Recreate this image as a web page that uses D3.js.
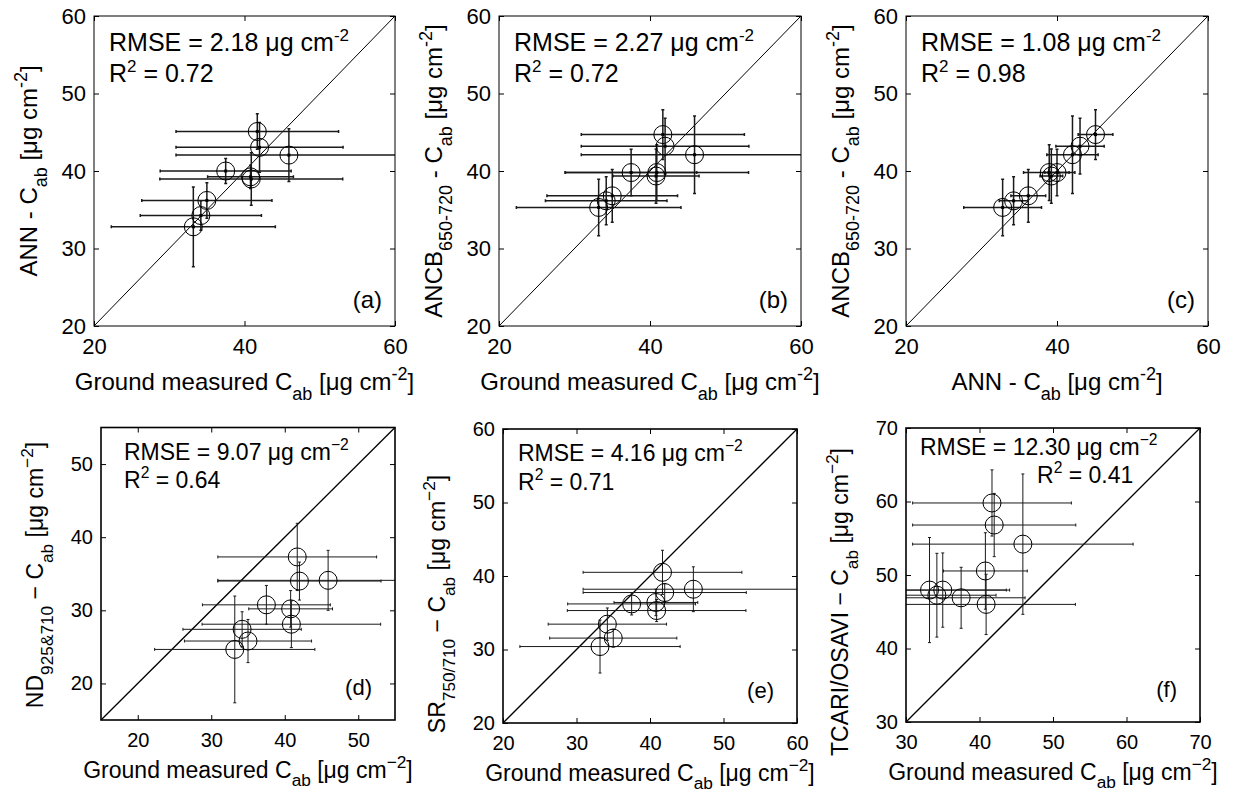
<!DOCTYPE html>
<html>
<head>
<meta charset="utf-8">
<script src="https://cdn.jsdelivr.net/npm/d3@7"></script>
<style>
  body { margin: 0; background: #fff; }
  svg { font-family: "Liberation Sans", Arial, Helvetica, sans-serif; }
  text { white-space: pre; }
</style>
</head>
<body>
<svg id="fig" width="1233" height="794"></svg>
<script>
// ground measured Cab (x of a, b, d, e, f) and its std
const groundCab = [33.2, 34.2, 35.0, 37.5, 40.8, 40.9, 41.7, 42.0, 45.9];
const groundSd  = [10.9, 8.05, 8.65, 8.7, 5.7, 12.15, 10.8, 11.1, 15.0];
// estimates per method, same sample order
const annCab   = [32.8, 34.25, 36.2, 40.0, 39.25, 38.97, 45.1, 43.05, 42.05];
const annSd    = [5.15, 1.9, 2.3, 1.6, 1.5, 3.4, 2.3, 3.2, 3.4];
const ancbCab  = [35.3, 36.15, 36.8, 39.8, 39.35, 39.8, 44.7, 43.2, 42.1];
const ancbSd   = [3.65, 3.1, 3.4, 3.0, 3.5, 3.6, 3.2, 3.6, 5.0];
const ndCab    = [24.65, 27.4, 25.8, 30.75, 30.2, 28.1, 37.3, 34.0, 34.1];
const ndSd     = [7.3, 2.4, 2.95, 2.65, 2.5, 3.2, 4.6, 2.6, 4.1];
const srCab    = [30.4, 33.45, 31.55, 36.2, 36.4, 35.3, 40.5, 37.75, 38.2];
const srSd     = [3.6, 2.2, 1.2, 1.5, 1.8, 1.5, 3.0, 1.2, 3.05];
const tcariCab = [47.95, 47.25, 47.95, 46.9, 50.55, 46.0, 59.8, 56.8, 54.2];
const tcariSd  = [7.15, 5.7, 5.05, 4.15, 5.2, 4.1, 4.5, 4.3, 9.55];

const rmseText = ["2.18", "2.27", "1.08", "9.07", "4.16", "12.30"];
const r2Text   = ["0.72", "0.72", "0.98", "0.64", "0.71", "0.41"];
const panelTags = ["(a)", "(b)", "(c)", "(d)", "(e)", "(f)"];

const svg = d3.select("#fig");

// text with sub/superscripts: segs = [{t, sub, sup}]
function richText(sel, segs, size, scale, shift) {
    let cur = 0;
    const sh = shift || 0.42;
    segs.forEach(function (s) {
        const target = s.sub ? size * sh : s.sup ? -size * 0.42 : 0;
        sel.append("tspan")
            .attr("dy", target - cur)
            .attr("font-size", (s.sub || s.sup) ? size * scale : size)
            .text(s.t);
        cur = target;
    });
}

function unitSegs(pre, minus) {
    return [{t: pre}, {t: "ab", sub: true}, {t: " [\u03bcg cm"}, {t: minus + "2", sup: true}, {t: "]"}];
}
const groundTitleTop = unitSegs("Ground measured C", "-");
const groundTitleBot = unitSegs("Ground measured C", "\u2212");

const panels = [
    {left: 94, right: 395, top: 16, bottom: 326, xd: [20, 60], yd: [20, 60],
     xt: [20, 40, 60], yt: [20, 30, 40, 50, 60],
     xs: groundCab, xe: groundSd, ys: annCab, ye: annSd,
     xTitle: groundTitleTop, yTitle: unitSegs("ANN - C", "-"), row: 0},
    {left: 499, right: 801, top: 16, bottom: 326, xd: [20, 60], yd: [20, 60],
     xt: [20, 40, 60], yt: [20, 30, 40, 50, 60],
     xs: groundCab, xe: groundSd, ys: ancbCab, ye: ancbSd,
     xTitle: groundTitleTop,
     yTitle: [{t: "ANCB"}, {t: "650-720", sub: true}].concat(unitSegs(" - C", "-")), row: 0},
    {left: 906, right: 1208, top: 16, bottom: 326, xd: [20, 60], yd: [20, 60],
     xt: [20, 40, 60], yt: [20, 30, 40, 50, 60],
     xs: annCab, xe: annSd, ys: ancbCab, ye: ancbSd,
     xTitle: unitSegs("ANN - C", "-"),
     yTitle: [{t: "ANCB"}, {t: "650-720", sub: true}].concat(unitSegs(" - C", "-")), row: 0},
    {left: 101, right: 395, top: 427.5, bottom: 720, xd: [15, 55], yd: [15, 55],
     xt: [20, 30, 40, 50], yt: [20, 30, 40, 50],
     xs: groundCab, xe: groundSd, ys: ndCab, ye: ndSd,
     xTitle: groundTitleBot,
     yTitle: [{t: "ND"}, {t: "925&710", sub: true}].concat(unitSegs(" \u2212 C", "\u2212")), row: 1,
     yTitleY: 575, ann: [23, 32, 23, 60]},
    {left: 503, right: 797, top: 429, bottom: 723, xd: [20, 60], yd: [20, 60],
     xt: [20, 30, 40, 50, 60], yt: [20, 30, 40, 50, 60],
     xs: groundCab, xe: groundSd, ys: srCab, ye: srSd,
     xTitle: groundTitleBot,
     yTitle: [{t: "SR"}, {t: "750/710", sub: true}].concat(unitSegs(" \u2212 C", "\u2212")), row: 1,
     yTitleY: 604, ann: [15, 32, 15, 61]},
    {left: 906, right: 1200, top: 428, bottom: 722, xd: [30, 70], yd: [30, 70],
     xt: [30, 40, 50, 60, 70], yt: [30, 40, 50, 60, 70],
     xs: groundCab, xe: groundSd, ys: tcariCab, ye: tcariSd,
     xTitle: groundTitleBot,
     yTitle: unitSegs("TCARI/OSAVI \u2212 C", "\u2212"), row: 1,
     yTitleY: 602, ann: [14, 27, 131, 55]}
];

panels.forEach(function (p, k) {
    const top = p.row === 0;
    const x = d3.scaleLinear().domain(p.xd).range([p.left, p.right]);
    const y = d3.scaleLinear().domain(p.yd).range([p.bottom, p.top]);
    const g = svg.append("g").attr("class", "panel");
    const tickFont = top ? 22 : 20;
    const lineCol = "#1a1a1a";

    g.append("clipPath").attr("id", "clip" + k)
        .append("rect")
        .attr("x", p.left).attr("y", p.top)
        .attr("width", p.right - p.left).attr("height", p.bottom - p.top);

    // axes, ticks pointing inwards on all four sides
    g.append("g")
        .attr("transform", "translate(0," + p.bottom + ")")
        .call(d3.axisBottom(x).tickValues(p.xt).tickSize(-5).tickPadding(top ? 12 : 13))
        .call(a => a.select(".domain").remove())
        .attr("font-size", tickFont).attr("font-family", null);
    g.append("g")
        .attr("transform", "translate(0," + p.top + ")")
        .call(d3.axisTop(x).tickValues(p.xt).tickSize(-5).tickFormat(""))
        .call(a => a.select(".domain").remove());
    g.append("g")
        .attr("transform", "translate(" + p.left + ",0)")
        .call(d3.axisLeft(y).tickValues(p.yt).tickSize(-5).tickPadding(8))
        .call(a => a.select(".domain").remove())
        .attr("font-size", tickFont).attr("font-family", null);
    g.append("g")
        .attr("transform", "translate(" + p.right + ",0)")
        .call(d3.axisRight(y).tickValues(p.yt).tickSize(-5).tickFormat(""))
        .call(a => a.select(".domain").remove());

    // 1:1 line
    g.append("line")
        .attr("x1", x(p.xd[0])).attr("y1", y(p.yd[0]))
        .attr("x2", x(p.xd[1])).attr("y2", y(p.yd[1]))
        .attr("stroke", "#000").attr("stroke-width", top ? 1 : 1.3);

    const pts = p.xs.map((v, i) => ({x: v, xe: p.xe[i], y: p.ys[i], ye: p.ye[i]}));
    const bars = g.append("g").attr("clip-path", "url(#clip" + k + ")")
        .attr("stroke", lineCol).attr("stroke-width", top ? 1.5 : 1);
    const cap = 1.5;

    bars.selectAll(".hbar").data(pts).enter().append("path")
        .attr("class", "hbar").attr("fill", "none")
        .attr("d", d => {
            const x0 = x(d.x - d.xe), x1 = x(d.x + d.xe), yy = y(d.y);
            return "M" + x0 + "," + yy + "H" + x1 +
                "M" + x0 + "," + (yy - cap) + "V" + (yy + cap) +
                "M" + x1 + "," + (yy - cap) + "V" + (yy + cap);
        });
    bars.selectAll(".vbar").data(pts).enter().append("path")
        .attr("class", "vbar").attr("fill", "none")
        .attr("d", d => {
            const y0 = y(d.y - d.ye), y1 = y(d.y + d.ye), xx = x(d.x);
            return "M" + xx + "," + y0 + "V" + y1 +
                "M" + (xx - cap) + "," + y0 + "H" + (xx + cap) +
                "M" + (xx - cap) + "," + y1 + "H" + (xx + cap);
        });

    g.selectAll(".pt").data(pts).enter().append("circle")
        .attr("class", "pt")
        .attr("cx", d => x(d.x)).attr("cy", d => y(d.y))
        .attr("r", 9).attr("fill", "none")
        .attr("stroke", "#000").attr("stroke-width", 1);
    if (top) {
        g.selectAll(".dot").data(pts).enter().append("rect")
            .attr("class", "dot")
            .attr("x", d => x(d.x) - 1.5).attr("y", d => y(d.y) - 1.5)
            .attr("width", 3).attr("height", 3).attr("fill", "#000");
    }

    // box
    g.append("rect")
        .attr("x", p.left).attr("y", p.top)
        .attr("width", p.right - p.left).attr("height", p.bottom - p.top)
        .attr("fill", "none").attr("stroke", "#000").attr("stroke-width", top ? 1 : 1.6);

    // statistics
    const annSize = top ? 25 : 23;
    const minus = top ? "-" : "\u2212";
    const ann = p.ann || [15, 35, 15, 66];
    richText(g.append("text").attr("x", p.left + ann[0]).attr("y", p.top + ann[1]),
        [{t: "RMSE = " + rmseText[k] + " \u03bcg cm"}, {t: minus + "2", sup: true}], annSize, 0.68);
    richText(g.append("text").attr("x", p.left + ann[2]).attr("y", p.top + ann[3]),
        [{t: "R"}, {t: "2", sup: true}, {t: " = " + r2Text[k]}], annSize, 0.68);

    g.append("text")
        .attr("x", p.right - (top ? 13 : 23))
        .attr("y", p.bottom - (top ? 18 : 25))
        .attr("text-anchor", "end").attr("font-size", top ? 24 : 22)
        .text(panelTags[k]);

    // axis titles
    const titleSize = top ? 24 : 23;
    richText(g.append("text")
        .attr("x", (p.left + p.right) / 2).attr("y", p.bottom + (top ? 64 : 58))
        .attr("text-anchor", "middle"), p.xTitle, titleSize, 0.75, top ? 0.42 : 0.36);
    const cy = p.yTitleY || (p.top + p.bottom) / 2;
    richText(g.append("text")
        .attr("transform", "translate(" + (p.left - (top ? 57 : 58)) + "," + cy + ") rotate(-90)")
        .attr("text-anchor", "middle"), p.yTitle, titleSize, 0.75);
});
</script>
</body>
</html>
